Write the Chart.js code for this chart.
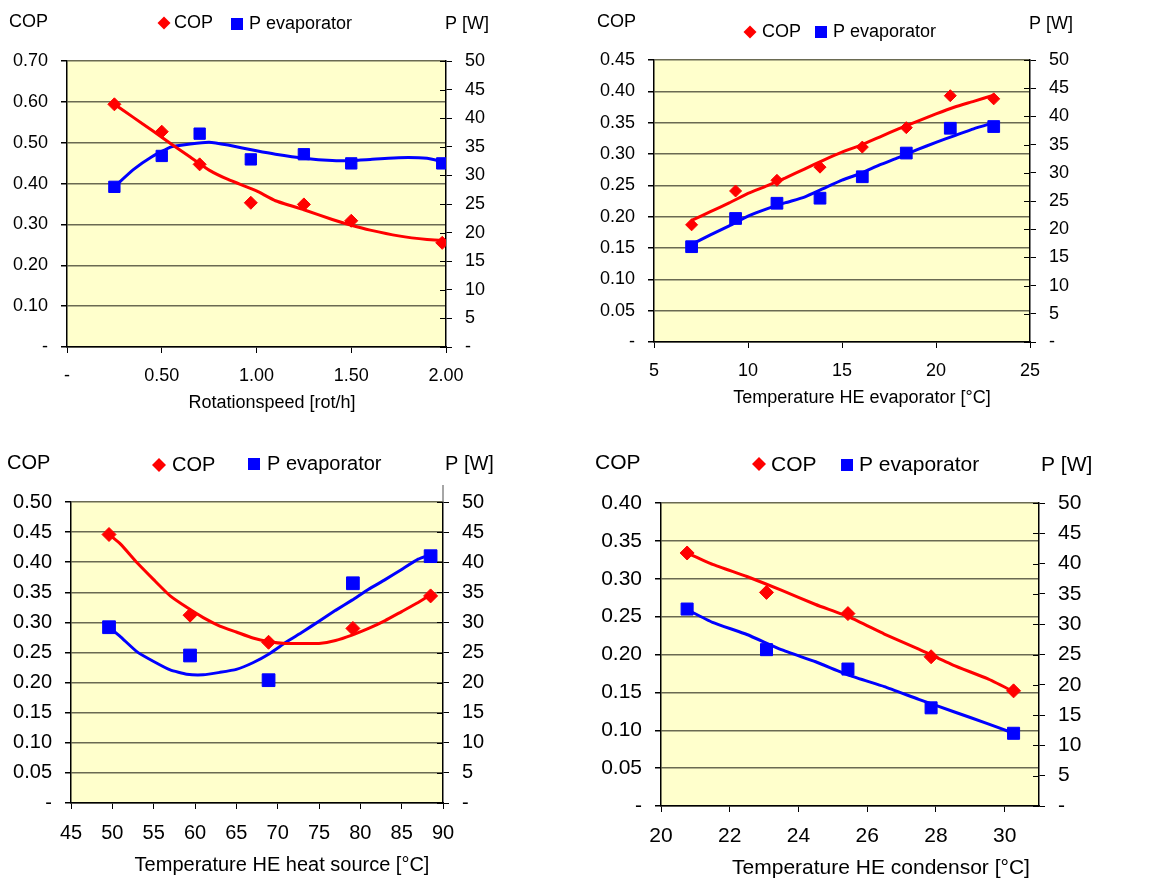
<!DOCTYPE html>
<html>
<head>
<meta charset="utf-8">
<title>COP and P evaporator</title>
<script src="https://cdn.jsdelivr.net/npm/chart.js@4.4.0/dist/chart.umd.min.js"></script>
<style>
  body { margin: 0; background: #fff; }
  canvas { position: absolute; }
</style>
</head>
<body>
<canvas id="c1" width="576" height="420" style="left:0;top:0"></canvas>
<canvas id="c2" width="577" height="420" style="left:576px;top:0"></canvas>
<canvas id="c3" width="576" height="440" style="left:0;top:440px"></canvas>
<canvas id="c4" width="577" height="440" style="left:576px;top:440px"></canvas>
<script>
// rotation speed
const rotX = [0.25, 0.5, 0.7, 0.97, 1.25, 1.5, 1.98];
const rotCop = [0.594, 0.527, 0.447, 0.353, 0.349, 0.309, 0.255];
const rotP = [28.0, 33.4, 37.3, 32.8, 33.7, 32.1, 32.1];
const rotFitX = [0.25, 0.35, 0.45, 0.55, 0.65, 0.75, 0.85, 1.0, 1.1, 1.25, 1.4, 1.5, 1.6, 1.75, 1.9, 1.98];
const rotFitCop = [0.594, 0.562, 0.53, 0.497, 0.465, 0.433, 0.41, 0.382, 0.358, 0.336, 0.312, 0.298, 0.286, 0.272, 0.263, 0.261];
const rotFitP = [28.0, 31.0, 33.3, 35.0, 35.5, 35.8, 35.3, 34.3, 33.7, 33.0, 32.6, 32.6, 32.8, 33.1, 33.0, 32.4];
const rotTicks = [0, 0.5, 1, 1.5, 2];

// temperature HE evaporator
const evaX = [7.0, 9.34, 11.54, 13.83, 16.08, 18.42, 20.76, 23.07];
const evaCop = [0.187, 0.241, 0.258, 0.279, 0.311, 0.342, 0.393, 0.388];
const evaP = [16.9, 21.9, 24.6, 25.5, 29.3, 33.5, 37.9, 38.2];
const evaFitX = [7.0, 8, 9, 10, 11, 12, 13, 14, 15, 16, 17, 18, 19, 20, 21, 22, 23.07];
const evaFitCop = [0.194, 0.208, 0.222, 0.237, 0.249, 0.262, 0.276, 0.29, 0.303, 0.314, 0.327, 0.34, 0.352, 0.364, 0.375, 0.384, 0.394];
const evaFitP = [17.3, 19.0, 20.6, 22.3, 23.6, 24.7, 25.7, 27.2, 28.7, 29.9, 31.4, 32.7, 34.1, 35.4, 36.6, 37.8, 38.9];
const evaTicks = [5, 10, 15, 20, 25];

// temperature HE heat source
const srcX = [49.6, 59.4, 68.9, 79.1, 88.5];
const srcCop = [0.446, 0.312, 0.267, 0.29, 0.344];
const srcP = [29.2, 24.5, 20.4, 36.5, 41.0];
const srcFitX = [49.6, 51, 53, 55, 57, 59, 61, 63, 65, 67, 69, 71, 73, 75, 77, 79, 81, 83, 85, 87, 88.5];
const srcFitCop = [0.446, 0.43, 0.399, 0.371, 0.344, 0.325, 0.308, 0.294, 0.284, 0.274, 0.268, 0.265, 0.265, 0.265, 0.27, 0.279, 0.29, 0.303, 0.318, 0.333, 0.346];
const srcFitP = [29.2, 27.6, 25.1, 23.5, 22.1, 21.4, 21.3, 21.7, 22.2, 23.3, 24.8, 26.7, 28.4, 30.2, 32.0, 33.7, 35.5, 37.1, 38.8, 40.5, 41.3];
const srcTicks = [45, 50, 55, 60, 65, 70, 75, 80, 85, 90];

// temperature HE condensor
const conX = [20.76, 23.07, 25.44, 27.86, 30.26];
const conCop = [0.334, 0.282, 0.254, 0.197, 0.152];
const conP = [32.5, 25.8, 22.6, 16.2, 12.0];
const conFitX = [20.76, 21.5, 22.5, 23.5, 24.5, 25.5, 26.5, 27.5, 28.5, 29.5, 30.26];
const conFitCop = [0.334, 0.319, 0.303, 0.285, 0.266, 0.249, 0.227, 0.207, 0.186, 0.168, 0.151];
const conFitP = [32.4, 30.3, 28.3, 25.8, 23.8, 21.5, 19.7, 17.6, 15.6, 13.6, 12.0];
const conTicks = [20, 22, 24, 26, 28, 30];

const FONT = '"Liberation Sans", Arial, sans-serif';
const RED = '#ff0000';
const BLUE = '#0000ff';
const GRID = '#6a6a52';

function xy(xs, ys) {
  return xs.map((x, i) => ({ x: x, y: ys[i] }));
}

function dash(v, digits) {
  if (Math.abs(v) < 1e-9) return '-';
  return digits == null ? String(Math.round(v)) : v.toFixed(digits);
}

// yellow plot background + header texts, legend and x title
const decor = {
  id: 'decor',
  beforeDraw(chart, args, o) {
    const a = chart.chartArea;
    const ctx = chart.ctx;
    ctx.save();
    ctx.fillStyle = '#ffffcc';
    ctx.fillRect(a.left, a.top, a.right - a.left, a.bottom - a.top);
    ctx.restore();
  },
  afterDraw(chart, args, o) {
    const ctx = chart.ctx;
    const a = chart.chartArea;
    ctx.save();
    ctx.fillStyle = '#000';
    ctx.font = o.size + 'px ' + FONT;
    ctx.textBaseline = 'middle';
    ctx.textAlign = 'left';
    ctx.fillText('COP', o.cop[0], o.cop[1]);
    ctx.fillText('P [W]', o.pw[0], o.pw[1]);
    // legend
    const d = o.diamond;
    ctx.fillStyle = RED;
    ctx.beginPath();
    ctx.moveTo(d[0], d[1] - d[2]);
    ctx.lineTo(d[0] + d[2], d[1]);
    ctx.lineTo(d[0], d[1] + d[2]);
    ctx.lineTo(d[0] - d[2], d[1]);
    ctx.closePath();
    ctx.fill();
    const s = o.square;
    ctx.fillStyle = BLUE;
    ctx.fillRect(s[0] - s[2] / 2, s[1] - s[2] / 2, s[2], s[2]);
    ctx.fillStyle = '#000';
    ctx.fillText('COP', o.copText[0], o.copText[1]);
    ctx.fillText('P evaporator', o.pText[0], o.pText[1]);
    // x axis title
    ctx.textAlign = 'center';
    ctx.fillText(o.title, o.titlePos[0], o.titlePos[1]);
    // short ticks of the right axis reaching into the plot
    const y1 = chart.scales.y1;
    ctx.strokeStyle = '#000';
    ctx.lineWidth = 1;
    ctx.beginPath();
    y1.ticks.forEach((t) => {
      const py = Math.round(y1.getPixelForValue(t.value)) + 0.5;
      ctx.moveTo(a.right - 6, py);
      ctx.lineTo(a.right, py);
    });
    ctx.stroke();
    if (o.rightExtend) {
      ctx.strokeStyle = '#888';
      ctx.lineWidth = 1.5;
      ctx.beginPath();
      ctx.moveTo(a.right, o.rightExtend);
      ctx.lineTo(a.right, a.top);
      ctx.stroke();
    }
    ctx.restore();
  }
};

function makeChart(id, p) {
  const canvas = document.getElementById(id);
  const W = canvas.width, H = canvas.height;
  const tick = { color: '#000', font: { family: FONT, size: p.size } };
  return new Chart(canvas.getContext('2d'), {
    type: 'scatter',
    data: {
      datasets: [
        {
          label: 'COP',
          data: xy(p.x, p.cop),
          yAxisID: 'y',
          pointStyle: 'rectRot',
          pointRadius: p.dRad,
          backgroundColor: RED,
          borderColor: RED,
          borderWidth: 1,
          order: 0
        },
        {
          label: 'P evaporator',
          data: xy(p.x, p.p),
          yAxisID: 'y1',
          pointStyle: 'rect',
          pointRadius: p.sRad,
          backgroundColor: BLUE,
          borderColor: BLUE,
          borderWidth: 1,
          order: 0
        },
        {
          label: 'COP trend',
          data: xy(p.fitX, p.fitCop),
          yAxisID: 'y',
          showLine: true,
          pointRadius: 0,
          borderColor: RED,
          borderWidth: 3,
          tension: 0.15,
          order: 1
        },
        {
          label: 'P trend',
          data: xy(p.fitX, p.fitP),
          yAxisID: 'y1',
          showLine: true,
          pointRadius: 0,
          borderColor: BLUE,
          borderWidth: 3,
          tension: 0.15,
          order: 1
        }
      ]
    },
    options: {
      responsive: false,
      animation: false,
      layout: { padding: { top: p.area[2], left: 0, right: 0, bottom: 0 } },
      plugins: {
        legend: { display: false },
        tooltip: { enabled: false },
        decor: p.decor
      },
      scales: {
        x: {
          type: 'linear',
          min: p.xMin,
          max: p.xMax,
          grid: { drawOnChartArea: false, color: '#000', tickLength: 6 },
          border: { color: '#000', width: 1.5 },
          ticks: Object.assign({}, tick, {
            padding: 12,
            maxRotation: 0,
            autoSkip: false,
            callback: (v) => dash(v, p.xDigits)
          }),
          afterBuildTicks: (s) => { s.ticks = p.xTicks.map((v) => ({ value: v })); },
          afterFit: (s) => { s.height = H - p.area[3]; }
        },
        y: {
          position: 'left',
          min: 0,
          max: p.copMax,
          grid: { color: GRID, lineWidth: 1.5, tickLength: 6, tickColor: '#000' },
          border: { color: '#000', width: 1.5 },
          ticks: Object.assign({}, tick, {
            stepSize: p.copStep,
            padding: 13,
            callback: (v) => dash(v, 2)
          }),
          afterFit: (s) => { s.width = p.area[0]; }
        },
        y1: {
          position: 'right',
          min: 0,
          max: 50,
          grid: { drawOnChartArea: false, color: '#000', tickLength: 6 },
          border: { color: '#000', width: 1.5 },
          ticks: Object.assign({}, tick, {
            stepSize: 5,
            padding: 13,
            callback: (v) => dash(v)
          }),
          afterFit: (s) => { s.width = W - p.area[1]; }
        }
      }
    },
    plugins: [decor]
  });
}

makeChart('c1', {
  x: rotX, cop: rotCop, p: rotP, fitX: rotFitX, fitCop: rotFitCop, fitP: rotFitP,
  xMin: 0, xMax: 2, xTicks: rotTicks, xDigits: 2,
  copMax: 0.7, copStep: 0.1,
  size: 18, dRad: 6.5, sRad: 8,
  area: [67, 446, 61, 347],
  decor: {
    size: 18, cop: [9, 22], pw: [445, 24],
    diamond: [164, 23, 6.5], square: [237, 24, 12],
    copText: [174, 23], pText: [249, 24],
    title: 'Rotationspeed [rot/h]', titlePos: [272, 403]
  }
});

makeChart('c2', {
  x: evaX, cop: evaCop, p: evaP, fitX: evaFitX, fitCop: evaFitCop, fitP: evaFitP,
  xMin: 5, xMax: 25, xTicks: evaTicks, xDigits: null,
  copMax: 0.45, copStep: 0.05,
  size: 18, dRad: 6, sRad: 8.3,
  area: [78, 454, 60, 342],
  decor: {
    size: 18, cop: [21, 22], pw: [453, 24],
    diamond: [174, 32, 6.5], square: [245, 32, 12],
    copText: [186, 32], pText: [257, 32],
    title: 'Temperature HE evaporator [\u00b0C]', titlePos: [286, 398]
  }
});

makeChart('c3', {
  x: srcX, cop: srcCop, p: srcP, fitX: srcFitX, fitCop: srcFitCop, fitP: srcFitP,
  xMin: 45, xMax: 90, xTicks: srcTicks, xDigits: null,
  copMax: 0.5, copStep: 0.05,
  size: 20, dRad: 7, sRad: 9,
  area: [71, 443, 62, 363],
  decor: {
    size: 20, cop: [7, 23], pw: [445, 24],
    diamond: [159, 25, 7], square: [254, 24, 12],
    copText: [172, 25], pText: [267, 24],
    title: 'Temperature HE heat source [\u00b0C]', titlePos: [282, 425],
    rightExtend: 45
  }
});

makeChart('c4', {
  x: conX, cop: conCop, p: conP, fitX: conFitX, fitCop: conFitCop, fitP: conFitP,
  xMin: 20, xMax: 31, xTicks: conTicks, xDigits: null,
  copMax: 0.4, copStep: 0.05,
  size: 21, dRad: 7, sRad: 8.5,
  area: [85, 463, 63, 366],
  decor: {
    size: 21, cop: [19, 23], pw: [465, 25],
    diamond: [183, 24, 7], square: [271, 25, 12],
    copText: [195, 25], pText: [283, 25],
    title: 'Temperature HE condensor [\u00b0C]', titlePos: [305, 428]
  }
});
</script>
</body>
</html>
